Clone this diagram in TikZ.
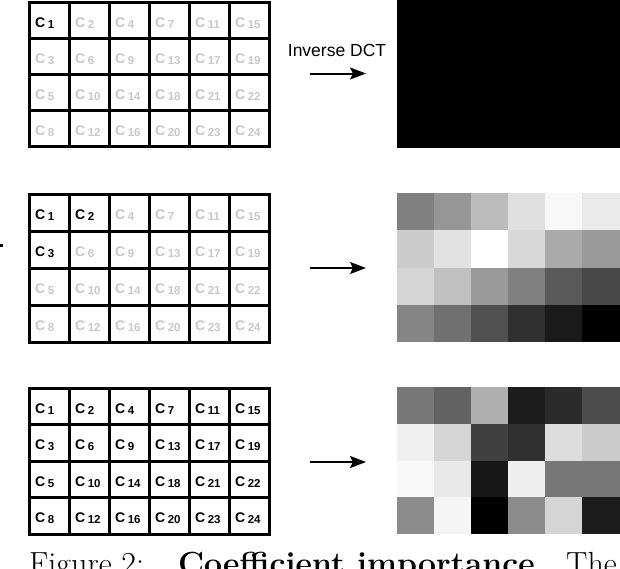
\documentclass[tikz,border=0pt]{standalone}
\usepackage{fontspec}
\newfontfamily\hvfont{Liberation Sans}
\usetikzlibrary{arrows.meta}
\definecolor{lightlbl}{RGB}{200,200,200}
\newcommand\clab[1]{C\kern2.5pt{\fontsize{11.5}{12}\selectfont\raisebox{-1pt}{#1}}}
\begin{document}
\begin{tikzpicture}[x=1pt,y=-1pt,
  gridline/.style={line width=3pt},
  lbl/.style={anchor=base west, inner sep=0pt, font=\hvfont\bfseries\fontsize{14}{16}\selectfont},
  arr/.style={line width=2pt, -{Stealth[length=16pt,width=12pt,inset=3pt]}},
  captxt/.style={anchor=base west, inner sep=0pt, font=\fontsize{32}{38}\selectfont}]
\useasboundingbox (0,0) rectangle (620,568);
\clip (0,0) rectangle (620,568);

% coefficient grids: top / row height / number of black labels / name
\foreach \top/\rh/\k/\g in {2/36/1/a, 194/37/3/b, 388/36.5/24/c} {
  \foreach [count=\r] \rowlist in {{1,2,4,7,11,15},{3,6,9,13,17,19},{5,10,14,18,21,22},{8,12,16,20,23,24}} {
    \foreach [count=\c] \v in \rowlist {
      \ifnum\v>\k\relax\def\lc{lightlbl}\else\def\lc{black}\fi
      \node[lbl, text=\lc] (\g-\r-\c) at ({29+40*(\c-1)+6}, {\top+\rh*(\r-0.5)+7}) {\clab{\v}};
    }
  }
  \draw[gridline] (29,\top) rectangle (269,{\top+4*\rh});
  \foreach \i in {1,2,3} \draw[gridline] (29,{\top+\rh*\i}) -- (269,{\top+\rh*\i});
  \foreach \i in {1,...,5} \draw[gridline] ({29+40*\i},\top) -- ({29+40*\i},{\top+4*\rh});
}

% reconstructed images
\fill[black] (397,0) rectangle (619.5,148);
\foreach \top/\rh/\vals in {193/37.25/{{128,150,187,224,248,234},{204,226,255,216,170,154},{213,192,154,128,90,72},{133,112,80,48,26,0}},
                           387/36.75/{{120,98,176,28,42,76},{240,213,64,48,221,204},{248,232,24,238,120,120},{140,245,0,140,213,28}}} {
  \foreach [count=\r] \rowlist in \vals {
    \foreach [count=\c] \v in \rowlist {
      \definecolor{cur}{RGB}{\v,\v,\v}
      \fill[cur] ({397+37*(\c-1)},{\top+\rh*(\r-1)}) rectangle ({397+37*\c+0.5},{\top+\rh*\r+0.3});
    }
  }
}

% arrows
\node[anchor=base, inner sep=0pt, font=\hvfont\fontsize{17.5}{20}\selectfont] (idct) at (337,56.5) {Inverse DCT};
\coordinate (s1) at (310,73.5); \coordinate (e1) at (366,73.5);
\coordinate (s2) at (310,268); \coordinate (e2) at (366,268);
\coordinate (s3) at (310,462); \coordinate (e3) at (366,462);
\draw[arr] (s1) -- (e1);
\draw[arr] (s2) -- (e2);
\draw[arr] (s3) -- (e3);

% stray mark
\fill[black] (0,244) rectangle (2.5,246.5);

% caption (cut off at the bottom edge, as in the reference)
\node[captxt] (cap1) at (29,574) {Figure 2:};
\node[captxt] (cap2) at (178,574) {\bfseries Coefficient importance.};
\node[captxt] (cap3) at (566,574) {The};
\end{tikzpicture}
\end{document}
